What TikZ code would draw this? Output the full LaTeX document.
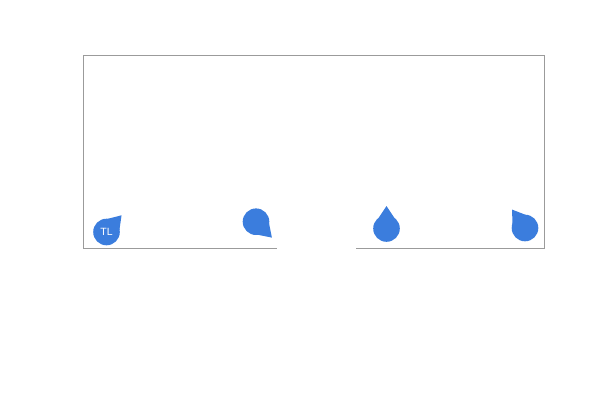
\documentclass[tikz,border=0pt]{standalone}
\usepackage{fontspec}
\setsansfont{Liberation Sans}
\usetikzlibrary{calc}
\definecolor{pinblue}{RGB}{59,125,221}
\definecolor{framegray}{RGB}{155,155,155}
\tikzset{
  pinhead/.style={circle, fill=pinblue, minimum size=26.6pt, inner sep=0pt,
    text=white, font=\sffamily\fontsize{10.5}{12}\selectfont},
}
% name, centre, tip angle, text
\newcommand{\pinmark}[4]{%
  \node[pinhead] (#1) at (#2) {#4};
  \fill[pinblue] ($(#1.center)+(#3+40:13)$)
    .. controls ($(#1.center)+(#3+12:16.5)$) .. ($(#1.center)+(#3:22.5)$)
    .. controls ($(#1.center)+(#3-12:16.5)$) .. ($(#1.center)+(#3-40:13)$) -- cycle;
}
\begin{document}
\begin{tikzpicture}[x=1pt,y=-1pt]
  \useasboundingbox (0,0) rectangle (600,400);
  % Frame, open at the bottom
  \draw[framegray, line width=0.9pt] (276.5,248.3) -- (83.3,248.3) -- (83.3,55.3)
    -- (544.7,55.3) -- (544.7,248.3) -- (356,248.3);

  % Pins
  \pinmark{pina}{106.5,232}{-48}{TL}
  \pinmark{pinb}{256,221.7}{45}{}
  \pinmark{pinc}{386.5,228.5}{-90}{}
  \pinmark{pind}{525,228}{-125}{}
\end{tikzpicture}
\end{document}
